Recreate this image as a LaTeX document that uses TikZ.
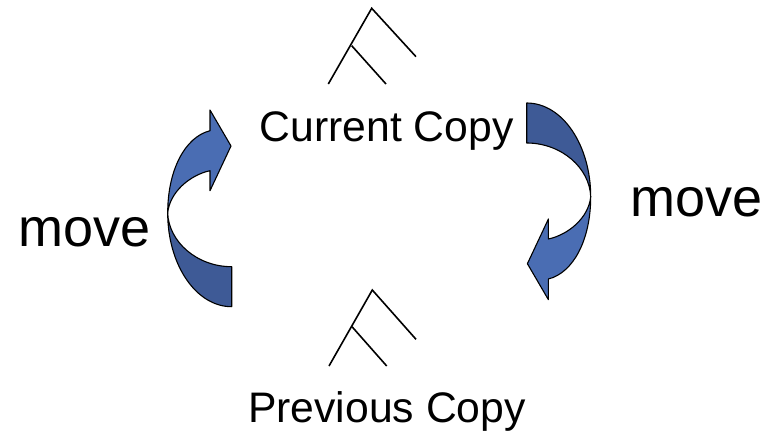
\documentclass[tikz,border=0pt]{standalone}
\usepackage{fontspec}
\setmainfont{Liberation Sans}
\definecolor{arrlight}{HTML}{4A6DB3}
\definecolor{arrdark}{HTML}{3E5A96}
\tikzset{
  band/.style={draw=black, line width=1.1pt, line join=round},
  treeline/.style={draw=black, line width=1.6pt},
  copytext/.style={inner sep=0pt, anchor=base west, font=\fontsize{42.7}{50}\selectfont},
  movetext/.style={inner sep=0pt, anchor=base west, font=\fontsize{54}{60}\selectfont},
  pics/twistarrow/.style={code={
    \path[band, fill=arrdark] (-64,0) .. controls (-64,51.4) and (-35.9,93.7) .. (0,93.7)
      -- (0,53.7) .. controls (-34.8,53.7) and (-63,28.7) .. (-64,0) -- cycle;
    \path[band, fill=arrlight] (-64,0) .. controls (-64,-43) and (-46.7,-76) .. (-21.7,-82.3)
      -- (-21.7,-103) -- (-0.7,-67) -- (-21.7,-22.3) -- (-21.7,-42.3)
      .. controls (-41.7,-38) and (-62,-21) .. (-64,0) -- cycle;
  }}
}
\begin{document}
\begin{tikzpicture}[x=1pt, y=-1pt]
\useasboundingbox (0,0) rectangle (765,433);
% top tree
\coordinate (ta) at (371.7,8.3);
\coordinate (tr) at (416,56.7);
\coordinate (tl) at (328.3,84);
\coordinate (tb) at (351.7,45.7);
\coordinate (te) at (386,84);
\draw[treeline] (tr) -- (ta) -- (tl);
\draw[treeline] (tb) -- (te);
% bottom tree
\coordinate (ba) at (372.3,290);
\coordinate (br) at (416,339.3);
\coordinate (bl) at (329,366);
\coordinate (bb) at (352,326.7);
\coordinate (be) at (386.7,366);
\draw[treeline] (br) -- (ba) -- (bl);
\draw[treeline] (bb) -- (be);
% labels
\node[copytext] (cur) at (259.5,141.7) {Current Copy};
\node[copytext] (prev) at (248,422.7) {Previous Copy};
\node[movetext] (mvl) at (18.5,246.7) {move};
\node[movetext] (mvr) at (630,216.7) {move};
% arrows
\pic at (231.7,213) {twistarrow};
\pic[rotate=180] at (526.7,196.7) {twistarrow};
\end{tikzpicture}
\end{document}
